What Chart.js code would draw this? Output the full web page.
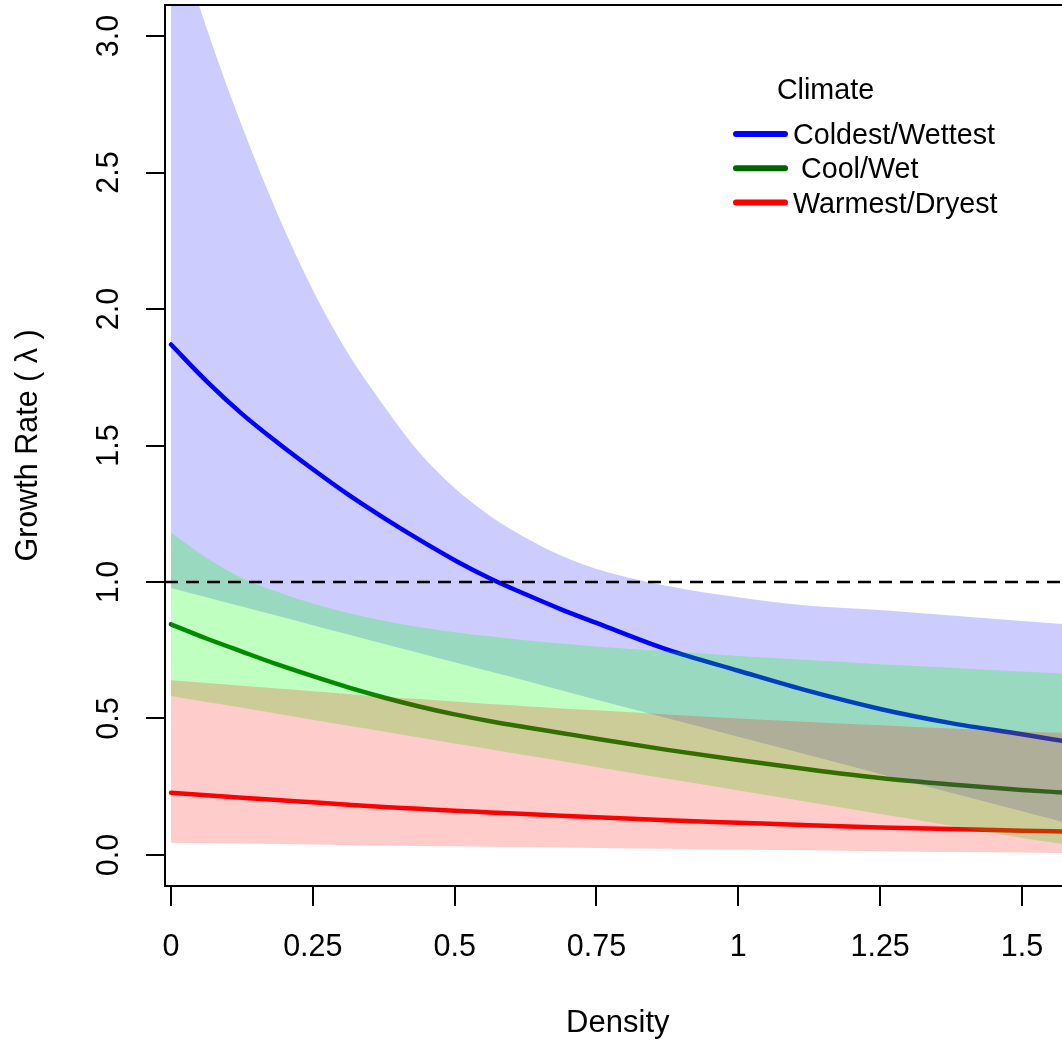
<!DOCTYPE html>
<html>
<head>
<meta charset="utf-8">
<title>Growth Rate vs Density</title>
<script src="https://cdn.jsdelivr.net/npm/chart.js@4.4.1/dist/chart.umd.min.js"></script>
<style>
  html, body { margin: 0; padding: 0; background: #fff; }
  canvas { display: block; }
</style>
</head>
<body>
<canvas id="grafico" width="1062" height="1042"></canvas>
<script>
// density grid (x) shared by every series
const density = [0, 0.0625, 0.125, 0.1875, 0.25, 0.3125, 0.375, 0.4375, 0.5, 0.5625, 0.625, 0.6875, 0.75, 0.875, 1, 1.125, 1.25, 1.375, 1.5, 1.58];

// Coldest/Wettest
const coldMean = [1.87, 1.736, 1.616, 1.511, 1.413, 1.32, 1.235, 1.155, 1.08, 1.013, 0.955, 0.9, 0.85, 0.752, 0.675, 0.6, 0.535, 0.483, 0.442, 0.415];
const coldLow  = [0.978, 0.944, 0.91, 0.876, 0.842, 0.808, 0.774, 0.74, 0.706, 0.672, 0.638, 0.603, 0.569, 0.501, 0.433, 0.365, 0.297, 0.228, 0.16, 0.117];
const coldHigh = [3.44, 3.03, 2.67, 2.35, 2.07, 1.836, 1.646, 1.475, 1.344, 1.242, 1.162, 1.097, 1.048, 0.985, 0.944, 0.913, 0.897, 0.877, 0.857, 0.845];

// Cool/Wet
const coolMean = [0.845, 0.793, 0.745, 0.698, 0.655, 0.614, 0.577, 0.544, 0.515, 0.49, 0.468, 0.447, 0.426, 0.385, 0.348, 0.313, 0.282, 0.258, 0.238, 0.228];
const coolLow  = [0.582, 0.56, 0.539, 0.517, 0.495, 0.473, 0.452, 0.43, 0.408, 0.387, 0.365, 0.344, 0.322, 0.279, 0.236, 0.193, 0.15, 0.107, 0.062, 0.037];
const coolHigh = [1.18, 1.089, 1.015, 0.964, 0.921, 0.886, 0.858, 0.835, 0.816, 0.801, 0.787, 0.775, 0.764, 0.746, 0.729, 0.714, 0.699, 0.686, 0.672, 0.664];

// Warmest/Dryest
const warmMean = [0.228, 0.219, 0.21, 0.201, 0.193, 0.184, 0.176, 0.169, 0.162, 0.156, 0.15, 0.144, 0.138, 0.127, 0.118, 0.109, 0.101, 0.095, 0.089, 0.086];
const warmLow  = [0.045, 0.043, 0.042, 0.04, 0.038, 0.036, 0.035, 0.033, 0.032, 0.03, 0.029, 0.027, 0.026, 0.023, 0.02, 0.017, 0.014, 0.011, 0.009, 0.007];
const warmHigh = [0.64, 0.63, 0.62, 0.61, 0.6, 0.59, 0.58, 0.571, 0.562, 0.553, 0.545, 0.537, 0.53, 0.515, 0.5, 0.487, 0.475, 0.463, 0.452, 0.447];

const refLevel = 1;

const xTicks = [0, 0.25, 0.5, 0.75, 1, 1.25, 1.5];
const xTickLabels = ["0", "0.25", "0.5", "0.75", "1", "1.25", "1.5"];
const yTicks = [0, 0.5, 1, 1.5, 2, 2.5, 3];
const yTickLabels = ["0.0", "0.5", "1.0", "1.5", "2.0", "2.5", "3.0"];

const climates = ["Coldest/Wettest", " Cool/Wet", "Warmest/Dryest"];
const lineColors = ["#0000ff", "#006400", "#ff0000"];
const bandColors = ["rgba(0,0,255,0.2)", "rgba(0,255,0,0.25)", "rgba(255,0,0,0.2)"];

const X_MIN = -0.0106, X_MAX = 1.5706;
const Y_MIN = -0.1136, Y_MAX = 3.1136;
const FONT = '"Liberation Sans", Arial, Helvetica, sans-serif';

function pts(values) {
  return density.map((d, i) => ({ x: d, y: values[i] }));
}

function meanLine(values, color, order) {
  return {
    data: pts(values),
    borderColor: color,
    borderWidth: 4.5,
    borderCapStyle: "round",
    pointRadius: 0,
    fill: false,
    cubicInterpolationMode: "monotone",
    order: order,
  };
}

function bound(values, order, color, target) {
  return {
    data: pts(values),
    borderWidth: 0,
    borderColor: "rgba(0,0,0,0)",
    backgroundColor: color || "rgba(0,0,0,0)",
    pointRadius: 0,
    fill: target === undefined ? false : { target: target },
    cubicInterpolationMode: "monotone",
    order: order,
  };
}

// lines first, then the bands on top of them (blue, green, red), then the dashed line
const datasets = [
  meanLine(coldMean, lineColors[0], 9),          // 0
  meanLine(coolMean, lineColors[1], 8),          // 1
  meanLine(warmMean, lineColors[2], 7),          // 2
  bound(coldLow, 6),                             // 3
  bound(coldHigh, 5, bandColors[0], 3),          // 4
  bound(coolLow, 4),                             // 5
  bound(coolHigh, 3, bandColors[1], 5),          // 6
  bound(warmLow, 2),                             // 7
  bound(warmHigh, 1, bandColors[2], 7),          // 8
  {
    data: [{ x: X_MIN, y: refLevel }, { x: X_MAX, y: refLevel }],
    borderColor: "#000",
    borderWidth: 2.5,
    borderDash: [13, 8],
    pointRadius: 0,
    fill: false,
    order: 0,
  },
];

const boxAndLegend = {
  id: "boxAndLegend",
  afterDraw(chart) {
    const ctx = chart.ctx;
    const area = chart.chartArea;
    ctx.save();
    // top side of the box
    ctx.strokeStyle = "#000";
    ctx.lineWidth = 2;
    ctx.beginPath();
    ctx.moveTo(area.left - 1, area.top);
    ctx.lineTo(area.right, area.top);
    ctx.stroke();

    // legend
    ctx.fillStyle = "#000";
    ctx.font = "28.7px " + FONT;
    ctx.textBaseline = "alphabetic";
    ctx.textAlign = "center";
    ctx.fillText("Climate", 825.5, 99);
    ctx.textAlign = "left";
    climates.forEach((name, i) => {
      const y = 134 + i * 34.3;
      ctx.strokeStyle = lineColors[i];
      ctx.lineWidth = 6;
      ctx.lineCap = "round";
      ctx.beginPath();
      ctx.moveTo(736, y);
      ctx.lineTo(785, y);
      ctx.stroke();
      ctx.fillText(name, 793, y + 10);
    });
    ctx.restore();
  },
};

new Chart(document.getElementById("grafico").getContext("2d"), {
  type: "line",
  data: { datasets: datasets },
  plugins: [boxAndLegend],
  options: {
    responsive: false,
    animation: false,
    layout: { padding: { top: 5, right: 0, left: 0, bottom: 0 } },
    plugins: {
      legend: { display: false },
      tooltip: { enabled: false },
      filler: { propagate: false },
    },
    scales: {
      x: {
        type: "linear",
        min: X_MIN,
        max: X_MAX,
        afterBuildTicks: (s) => { s.ticks = xTicks.map((v) => ({ value: v })); },
        afterFit: (s) => { s.height = 156; s.paddingLeft = 0; s.paddingRight = 0; },
        ticks: {
          callback: (v, i) => xTickLabels[i],
          font: { size: 30.5, family: FONT },
          color: "#000",
          padding: 23,
          autoSkip: false,
          maxRotation: 0,
          minRotation: 0,
        },
        grid: { drawOnChartArea: false, drawTicks: true, tickLength: 20, color: "#000", lineWidth: 2 },
        border: { display: true, color: "#000", width: 2 },
        // leading space: the R plot region is centred slightly right of the visible area
        title: { display: true, text: " Density", font: { size: 31, family: FONT }, color: "#000", padding: { top: 0, bottom: 0 } },
      },
      y: {
        type: "linear",
        min: Y_MIN,
        max: Y_MAX,
        afterBuildTicks: (s) => { s.ticks = yTicks.map((v) => ({ value: v })); },
        afterFit: (s) => { s.width = 165; s.paddingTop = 0; s.paddingBottom = 0; },
        ticks: {
          callback: (v, i) => yTickLabels[i],
          font: { size: 30.5, family: FONT },
          color: "#000",
          padding: 15,
          minRotation: 90,
          maxRotation: 90,
          crossAlign: "center",
          autoSkip: false,
        },
        grid: { drawOnChartArea: false, drawTicks: true, tickLength: 19, color: "#000", lineWidth: 2 },
        border: { display: true, color: "#000", width: 2 },
        title: { display: true, text: "Growth Rate ( λ )", font: { size: 30.5, family: FONT }, color: "#000", padding: { top: 10, bottom: 0 } },
      },
    },
  },
});
</script>
</body>
</html>
